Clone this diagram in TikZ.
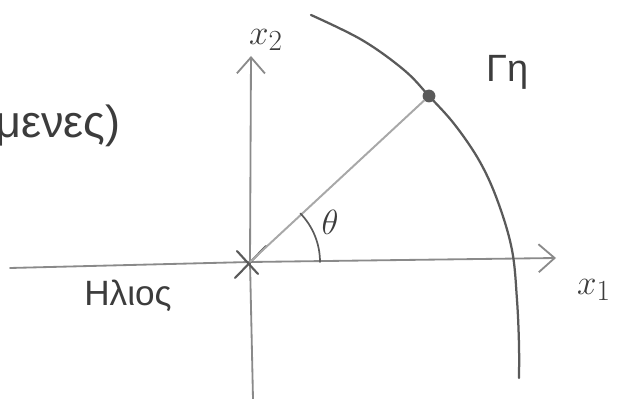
\documentclass[tikz,border=0pt]{standalone}
\usepackage{fontspec}
\setmainfont{Liberation Sans}
\usetikzlibrary{arrows.meta, positioning}
\definecolor{cink}{HTML}{3C3C3C}
\definecolor{caxis}{HTML}{8A8A8A}
\definecolor{cray}{HTML}{A8A8A8}
\definecolor{corbit}{HTML}{5A5A5A}
\tikzset{
  every picture/.style={line cap=round, line join=round},
  axis/.style={draw=caxis, line width=1.3pt},
  axisarrow/.style={axis, -{Straight Barb[length=4mm, width=7mm, line width=1.3pt]}},
  orbit/.style={draw=corbit, line width=1.6pt},
  ray/.style={draw=cray, line width=1.4pt},
  handtext/.style={text=cink, inner sep=1pt},
}
\begin{document}
\begin{tikzpicture}[x=0.025cm, y=-0.025cm]
  \useasboundingbox (0,0) rectangle (626,399);
  % points
  \coordinate (O) at (250,262);
  \coordinate (xl) at (10,268);
  \coordinate (xr) at (556,258);
  \coordinate (yb) at (253,399);
  \coordinate (yt) at (251,56);
  % axes
  \draw[axis] (xl) -- (O);
  \draw[axisarrow] (O) -- (xr);
  \draw[axis] (yb) -- (O);
  \draw[axisarrow] (O) -- (yt);
  % sun
  \draw[draw=corbit, line width=1.5pt] (237,251) -- (258,274);
  \draw[draw=corbit, line width=1.5pt] (235,278) -- (266,246);
  % earth and orbit
  \node[circle, fill=corbit, inner sep=0pt, minimum size=3.2mm] (earth) at (429,96) {};
  \draw[ray] (O) -- (earth);
  \draw[orbit] plot[smooth, tension=0.6] coordinates {(311,15) (362,40) (404,70) (429,96) (455,125) (480,162) (498,202) (512,250) (517,300) (519,345) (519,378)};
  % angle
  \draw[draw=corbit, line width=1.2pt] (320,262) arc[start angle=0, end angle=-44, radius=70];
  % texts
  \node[handtext, font=\fontsize{32}{36}\selectfont, anchor=base east] (note) at (122,138) {μενες)};
  \node[handtext, font=\fontsize{28}{32}\selectfont] (x2) at (266,40) {$x_2$};
  \node[handtext, font=\fontsize{27}{30}\selectfont] (earthname) at (508,72) {Γη};
  \node[handtext, font=\fontsize{26}{30}\selectfont] (theta) at (330,222) {$\theta$};
  \node[handtext, font=\fontsize{28}{32}\selectfont] (x1) at (594,290) {$x_1$};
  \node[handtext, font=\fontsize{25}{28}\selectfont] (sunname) at (128,296) {Ηλιος};
\end{tikzpicture}
\end{document}
